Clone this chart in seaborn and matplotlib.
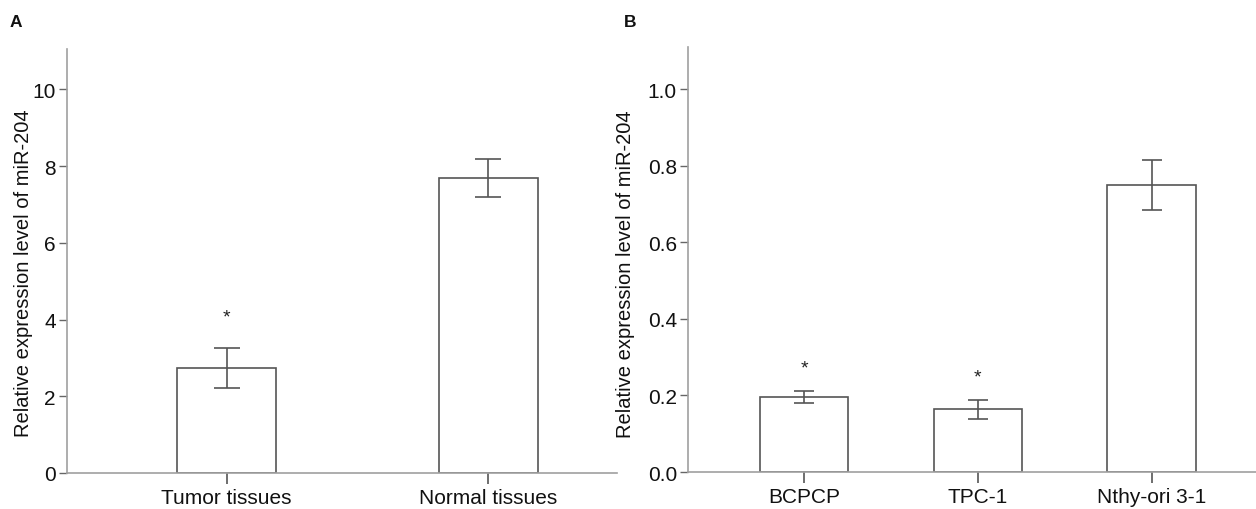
import numpy as np
import pandas as pd
import matplotlib
matplotlib.use('Agg')
import matplotlib.pyplot as plt
import seaborn as sns

# Data
tissue_groups = ['Tumor tissues', 'Normal tissues']
tissue_means = [2.74, 7.68]
tissue_err = [0.52, 0.49]
tissue_stars = ['*', '']

cell_groups = ['BCPCP', 'TPC-1', 'Nthy-ori 3-1']
cell_means = [0.195, 0.164, 0.749]
cell_err = [0.016, 0.025, 0.065]
cell_stars = ['*', '*', '']

sns.set_theme(style='white')
plt.rcParams['font.family'] = ['Liberation Sans', 'DejaVu Sans']

spine_col = '#a0a0a0'
bar_edge = '#555555'
ylab = 'Relative expression level of miR-204'

fig = plt.figure(figsize=(12.56, 5.10), dpi=100)
axA = fig.add_axes([0.0533, 0.0706, 0.4377, 0.8314])
axB = fig.add_axes([0.5478, 0.0725, 0.4522, 0.8335])


def draw_panel(ax, groups, means, errs, stars, width, capsize, star_off, ylim, xlim, yticks, fmt):
    df = pd.DataFrame({'group': groups, 'value': means})
    sns.barplot(data=df, x='group', y='value', ax=ax, color='white',
                edgecolor=bar_edge, linewidth=1.2, width=width, errorbar=None)
    for b in ax.patches:
        b.set_facecolor('white')
    xs = np.arange(len(groups))
    ax.errorbar(xs, means, yerr=errs, fmt='none', ecolor=bar_edge,
                elinewidth=1.2, capsize=capsize, capthick=1.2)
    for x, m, e, s in zip(xs, means, errs, stars):
        if s:
            ax.text(x, m + e + star_off, s, ha='center', va='center', fontsize=14, color='#222222')
    ax.set_ylim(*ylim)
    ax.set_xlim(*xlim)
    ax.set_yticks(yticks)
    ax.set_yticklabels([fmt.format(v) for v in yticks])
    ax.set_xlabel('')
    ax.set_ylabel(ylab, fontsize=14.5, color='#111111')
    for side in ['top', 'right']:
        ax.spines[side].set_visible(False)
    for side in ['left', 'bottom']:
        ax.spines[side].set_color(spine_col)
        ax.spines[side].set_linewidth(1.2)
    ax.tick_params(axis='y', which='major', left=True, length=6, width=1.0,
                   color='#666666', labelsize=15, labelcolor='#111111', pad=2)
    ax.tick_params(axis='x', which='major', bottom=True, length=8, width=1.2,
                   color='#555555', labelsize=15, labelcolor='#111111', pad=3)


draw_panel(axA, tissue_groups, tissue_means, tissue_err, tissue_stars,
           0.38, 9.7, 0.8, (0, 11.05), (-0.61, 1.49), [0, 2, 4, 6, 8, 10], '{:.0f}')
draw_panel(axB, cell_groups, cell_means, cell_err, cell_stars,
           0.51, 7.5, 0.06, (0, 1.11), (-0.667, 2.6), [0.0, 0.2, 0.4, 0.6, 0.8, 1.0], '{:.1f}')

axA.yaxis.set_label_coords(-0.062, 0.474)
axB.yaxis.set_label_coords(-0.093, 0.468)

fig.text(0.008, 0.955, 'A', fontsize=12.5, fontweight='bold', color='#111111', va='center')
fig.text(0.497, 0.955, 'B', fontsize=12.5, fontweight='bold', color='#111111', va='center')

fig.savefig('out.png', dpi=100, facecolor='white')
